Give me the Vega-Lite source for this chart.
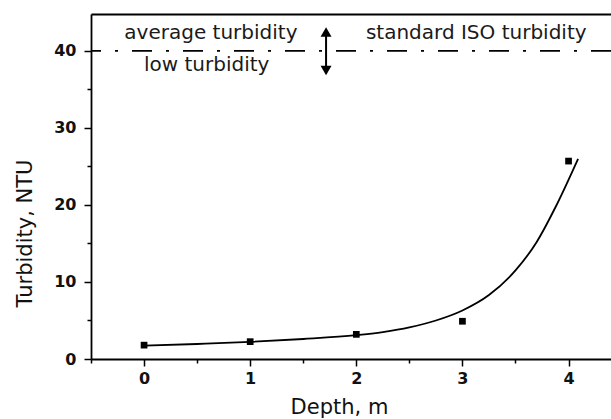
{
  "$schema": "https://vega.github.io/schema/vega-lite/v6.json",
  "width": 520,
  "height": 345,
  "autosize": {"type": "none"},
  "padding": {"left": 91, "top": 14, "right": 0, "bottom": 60},
  "background": "white",
  "config": {
    "view": {"stroke": null},
    "font": "DejaVu Sans",
    "axis": {
      "domainColor": "#000",
      "domainWidth": 1.8,
      "tickColor": "#000",
      "tickWidth": 1.5,
      "grid": false,
      "labelFont": "DejaVu Sans",
      "labelFontSize": 16,
      "labelFontWeight": "bold",
      "labelColor": "#111",
      "titleFont": "DejaVu Sans",
      "titleFontSize": 21,
      "titleFontWeight": "normal",
      "titleColor": "#111"
    }
  },
  "datasets": {
    "measured": [
      {"depth": 0, "turbidity": 1.8},
      {"depth": 1, "turbidity": 2.25},
      {"depth": 2, "turbidity": 3.2},
      {"depth": 3, "turbidity": 4.9},
      {"depth": 4, "turbidity": 25.7}
    ],
    "fit": [
      {"depth": 0, "turbidity": 1.73},
      {"depth": 0.5, "turbidity": 1.95},
      {"depth": 1, "turbidity": 2.22},
      {"depth": 1.5, "turbidity": 2.6},
      {"depth": 2, "turbidity": 3.1},
      {"depth": 2.25, "turbidity": 3.5},
      {"depth": 2.5, "turbidity": 4.1},
      {"depth": 2.75, "turbidity": 5.0},
      {"depth": 3, "turbidity": 6.3},
      {"depth": 3.25, "turbidity": 8.3},
      {"depth": 3.5, "turbidity": 11.5},
      {"depth": 3.7, "turbidity": 15.2},
      {"depth": 3.88, "turbidity": 19.8},
      {"depth": 4.09, "turbidity": 26.0}
    ],
    "iso": [{"turbidity": 40}],
    "notes": [
      {"depth": 0.63, "turbidity": 41.5, "text": "average turbidity"},
      {"depth": 3.13, "turbidity": 41.5, "text": "standard ISO turbidity"},
      {"depth": 0.59, "turbidity": 37.4, "text": "low turbidity"}
    ],
    "arrow": [{"depth": 1.715, "turbidity": 42.4, "turbidity2": 37.5}],
    "heads": [
      {"depth": 1.715, "turbidity": 42.45, "shape": "triangle-up"},
      {"depth": 1.715, "turbidity": 37.45, "shape": "triangle-down"}
    ]
  },
  "layer": [
    {
      "data": {"name": "fit"},
      "mark": {"type": "line", "color": "#000", "strokeWidth": 1.8, "interpolate": "monotone"},
      "encoding": {
        "x": {
          "field": "depth", "type": "quantitative",
          "scale": {"domain": [-0.5, 4.4], "nice": false, "zero": false},
          "axis": {
            "orient": "bottom",
            "title": "Depth, m",
            "values": [-0.5, 0, 0.5, 1, 1.5, 2, 2.5, 3, 3.5, 4],
            "tickSize": {"condition": {"test": "datum.value % 1 === 0", "value": 7}, "value": 4},
            "labelExpr": "datum.value % 1 === 0 ? format(datum.value, 'd') : ''",
            "labelPadding": 4,
            "titleX": 248,
            "titleY": 54,
            "titleBaseline": "alphabetic"
          }
        },
        "y": {
          "field": "turbidity", "type": "quantitative",
          "scale": {"domain": [0, 44.8], "nice": false},
          "axis": {
            "title": "Turbidity, NTU",
            "values": [0, 5, 10, 15, 20, 25, 30, 35, 40],
            "format": "d",
            "tickSize": {"condition": {"test": "datum.value % 10 === 0", "value": 7}, "value": 4},
            "labelExpr": "datum.value % 10 === 0 ? datum.label : ''",
            "labelPadding": 8,
            "titlePadding": 18,
            "titleY": 219
          }
        }
      }
    },
    {
      "data": {"name": "measured"},
      "mark": {"type": "point", "shape": "square", "filled": true, "color": "#000", "size": 45, "opacity": 1},
      "encoding": {
        "x": {
          "field": "depth", "type": "quantitative",
          "axis": {"orient": "top", "title": null, "labels": false, "ticks": false, "domain": true}
        },
        "y": {"field": "turbidity", "type": "quantitative"}
      }
    },
    {
      "data": {"name": "iso"},
      "mark": {"type": "rule", "color": "#000", "strokeWidth": 1.8, "strokeDash": [20, 14, 3, 14]},
      "encoding": {
        "y": {"field": "turbidity", "type": "quantitative"}
      }
    },
    {
      "data": {"name": "notes"},
      "mark": {"type": "text", "font": "DejaVu Sans", "fontSize": 20, "color": "#1a1a1a", "align": "center", "baseline": "alphabetic"},
      "encoding": {
        "x": {"field": "depth", "type": "quantitative", "axis": null},
        "y": {"field": "turbidity", "type": "quantitative"},
        "text": {"field": "text"}
      }
    },
    {
      "data": {"name": "arrow"},
      "mark": {"type": "rule", "color": "#000", "strokeWidth": 2},
      "encoding": {
        "x": {"field": "depth", "type": "quantitative", "axis": null},
        "y": {"field": "turbidity", "type": "quantitative"},
        "y2": {"field": "turbidity2"}
      }
    },
    {
      "data": {"name": "heads"},
      "mark": {"type": "point", "filled": true, "color": "#000", "size": 120, "opacity": 1},
      "encoding": {
        "x": {"field": "depth", "type": "quantitative", "axis": null},
        "y": {"field": "turbidity", "type": "quantitative"},
        "shape": {"field": "shape", "type": "nominal", "scale": null, "legend": null}
      }
    }
  ],
  "resolve": {"axis": {"x": "independent"}}
}
